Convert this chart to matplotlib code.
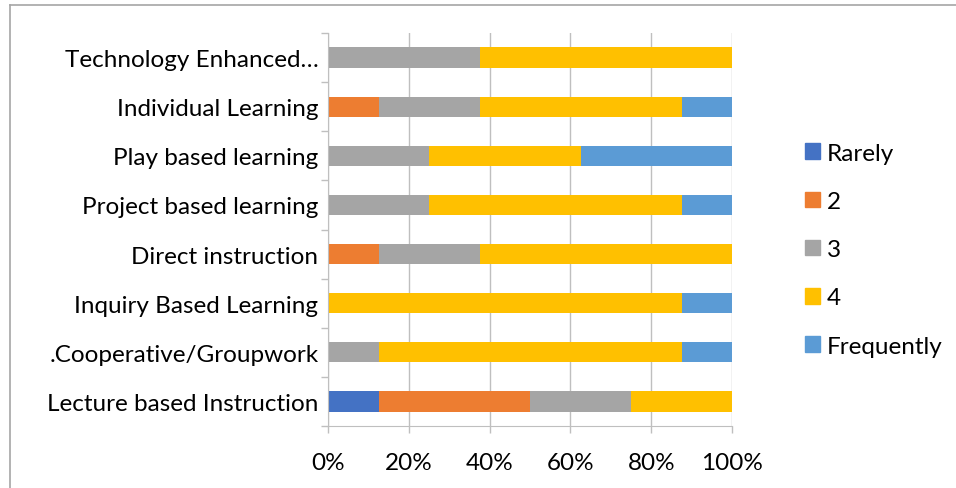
import matplotlib.pyplot as plt
import numpy as np
from matplotlib.lines import Line2D
from matplotlib.ticker import PercentFormatter

plt.rcParams['font.family'] = ['Lato', 'DejaVu Sans']

categories = ['Lecture based Instruction', '.Cooperative/Groupwork', 'Inquiry Based Learning',
              'Direct instruction', 'Project based learning', 'Play based learning',
              'Individual Learning', 'Technology Enhanced\u2026']
series_names = ['Rarely', '2', '3', '4', 'Frequently']
rarely = [12.5, 0, 0, 0, 0, 0, 0, 0]
two = [37.5, 0, 0, 12.5, 0, 0, 12.5, 0]
three = [25, 12.5, 0, 25, 25, 25, 25, 37.5]
four = [25, 75, 87.5, 62.5, 62.5, 37.5, 50, 62.5]
frequently = [0, 12.5, 12.5, 0, 12.5, 37.5, 12.5, 0]
colors = ['#4472C4', '#ED7D31', '#A5A5A5', '#FFC000', '#5B9BD5']

W, H = 956, 489
fig = plt.figure(figsize=(W / 100, H / 100), dpi=100)
ax = fig.add_axes([328 / W, 1 - 427 / H, (732 - 328) / W, (427 - 34) / H])

y = np.arange(len(categories))
left = np.zeros(len(categories))
for name, vals, c in zip(series_names, [rarely, two, three, four, frequently], colors):
    ax.barh(y, vals, left=left, height=0.41, color=c, label=name, zorder=2)
    left += np.array(vals)

ax.set_xlim(0, 100)
ax.set_ylim(-0.5, len(categories) - 0.5)
ax.set_xticks(np.arange(0, 101, 20))
ax.xaxis.set_major_formatter(PercentFormatter(decimals=0))
ax.grid(axis='x', color='#BFBFBF', linewidth=1, zorder=0)

ax.set_yticks(y)
ax.set_yticklabels(categories)
ax.set_yticks(np.arange(-0.5, len(categories)), minor=True)
ax.tick_params(axis='y', which='major', length=0, pad=7, labelsize=17.5)
ax.tick_params(axis='y', which='minor', length=5, color='#BFBFBF', width=1)
ax.tick_params(axis='x', length=5, color='#BFBFBF', width=1, labelsize=17.5, pad=13.5)

for s in ['top', 'right']:
    ax.spines[s].set_visible(False)
for s in ['left', 'bottom']:
    ax.spines[s].set_color('#BFBFBF')

handles = [plt.Rectangle((0, 0), 1, 1, color=c) for c in colors]
fig.legend(handles, series_names, loc='upper left', bbox_to_anchor=(795 / W, 1 - 134 / H),
           frameon=False, fontsize=17.5, handlelength=0.62, handleheight=0.62,
           handletextpad=0.28, labelspacing=1.12, borderaxespad=0)

# outer chart border
fig.add_artist(Line2D([9.5 / W, 1], [1 - 5.5 / H, 1 - 5.5 / H], color='#A6A6A6', lw=1.2))
fig.add_artist(Line2D([9.5 / W, 9.5 / W], [0, 1 - 5.5 / H], color='#A6A6A6', lw=1.2))

fig.savefig('out.png', dpi=100, facecolor='white')
